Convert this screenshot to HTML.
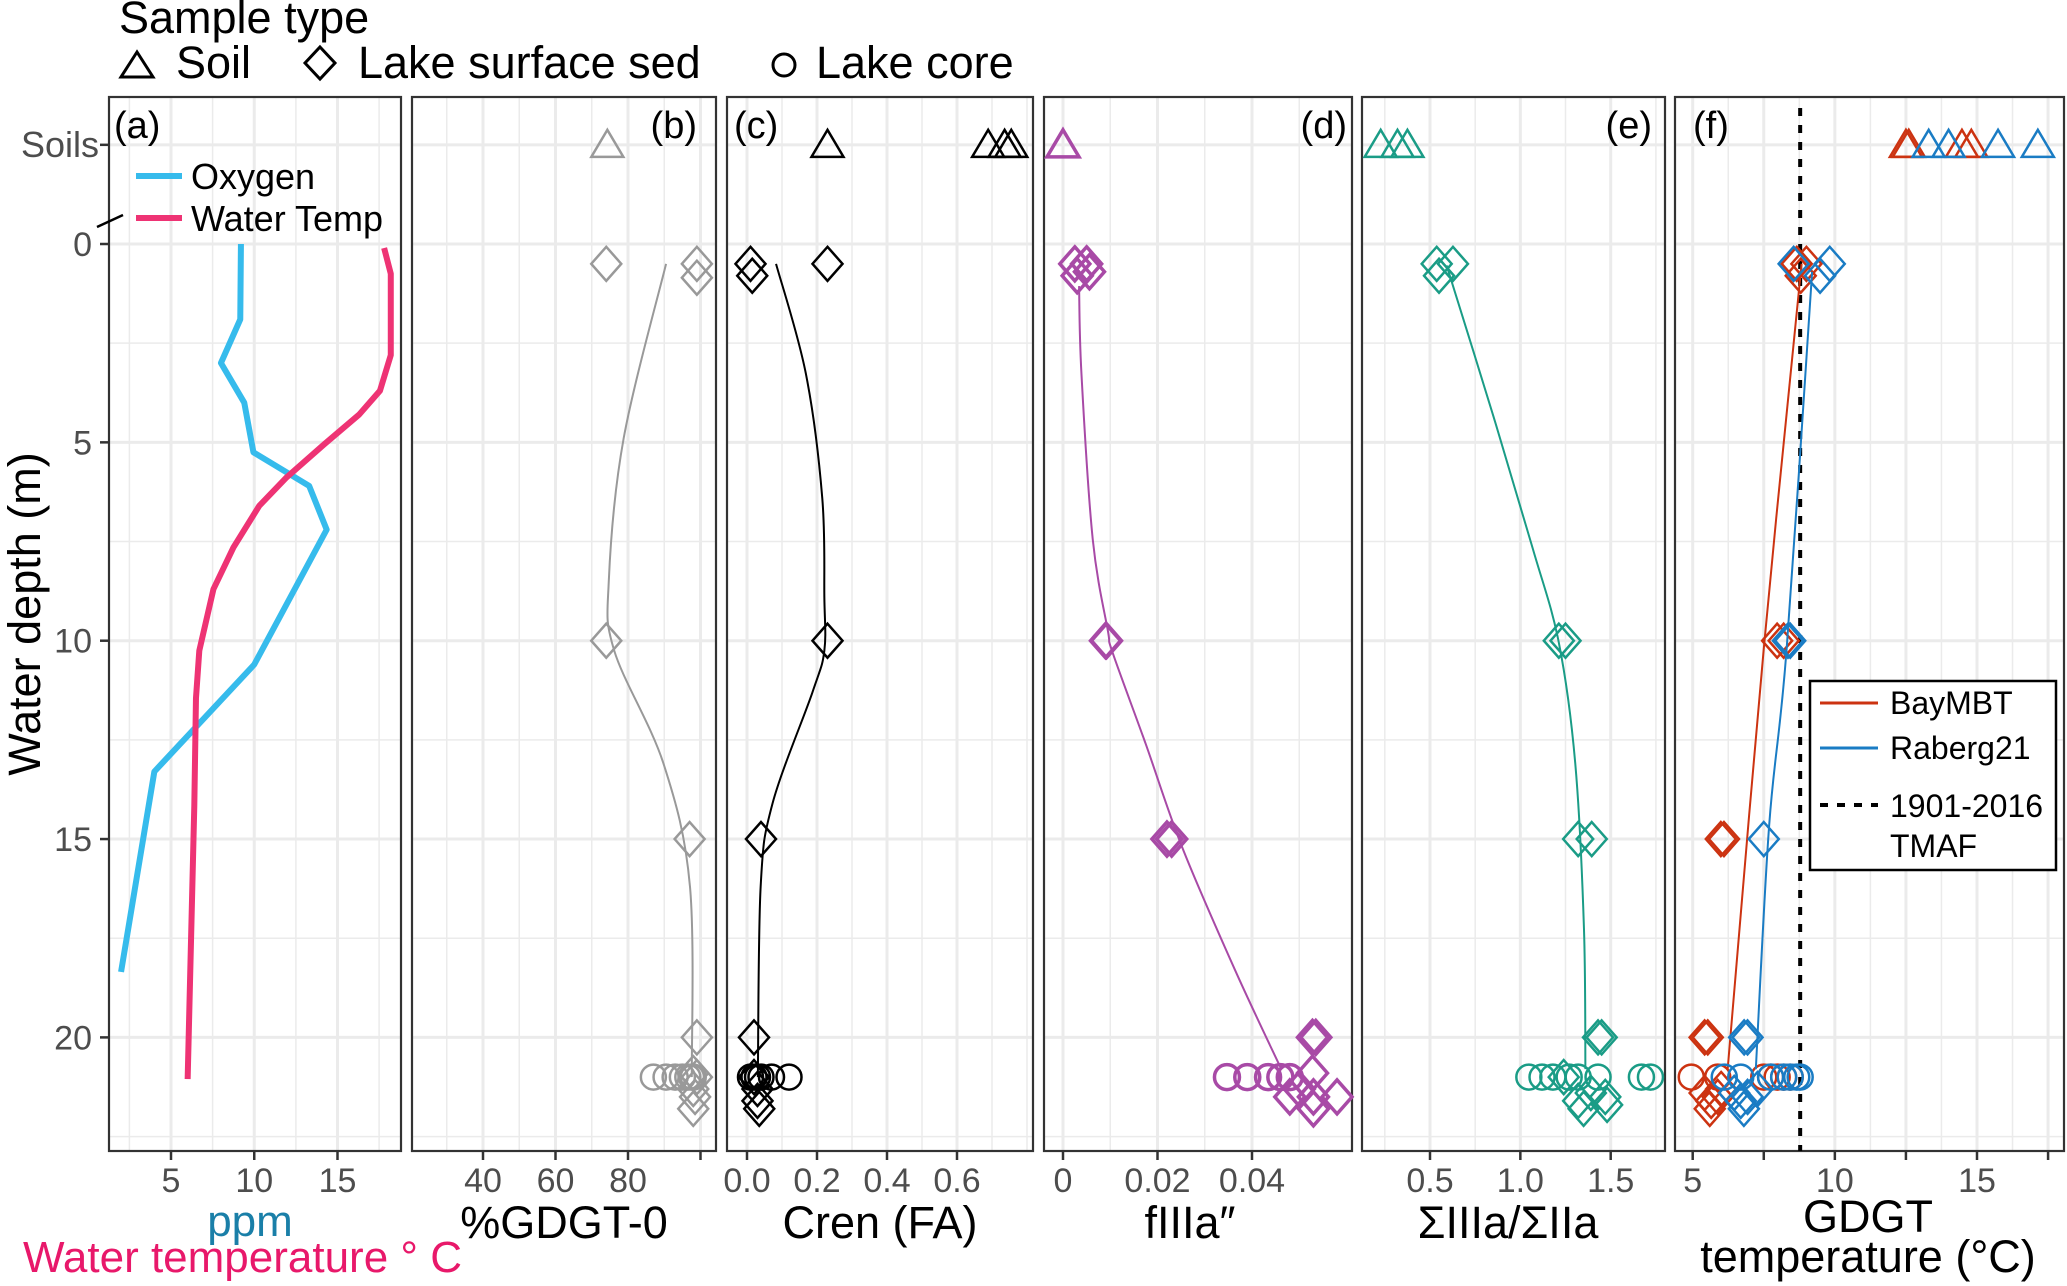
<!DOCTYPE html>
<html><head><meta charset="utf-8"><style>
html,body{margin:0;padding:0;background:#fff;}
svg{display:block;font-family:"Liberation Sans",Arial,sans-serif;}
</style></head><body>
<svg id="chart" width="2067" height="1286" viewBox="0 0 2067 1286" xmlns="http://www.w3.org/2000/svg">
<rect width="2067" height="1286" fill="#fff"/>
<g>
<text x="119" y="33" font-size="45">Sample type</text>
<polygon points="137,52 121,77 153,77" fill="none" stroke="#000" stroke-width="3"/>
<text x="176" y="78" font-size="45">Soil</text>
<polygon points="320,47 335,63 320,79 305,63" fill="none" stroke="#000" stroke-width="3"/>
<text x="358" y="78" font-size="45">Lake surface sed</text>
<circle cx="784" cy="65" r="11" fill="none" stroke="#000" stroke-width="3"/>
<text x="816" y="78" font-size="45">Lake core</text>
</g>
<g id="plots"></g>
<text transform="translate(40,614) rotate(-90)" text-anchor="middle" font-size="45">Water depth (m)</text>
<text x="250" y="1236" text-anchor="middle" font-size="44" fill="#1a7fa8">ppm</text>
<text x="23" y="1272" font-size="44" fill="#e8186a">Water temperature ° C</text>
<text x="564" y="1238" text-anchor="middle" font-size="45">%GDGT-0</text>
<text x="880" y="1238" text-anchor="middle" font-size="45">Cren (FA)</text>
<text x="1190" y="1238" text-anchor="middle" font-size="45">fIIIa″</text>
<text x="1508" y="1238" text-anchor="middle" font-size="45">ΣIIIa/ΣIIa</text>
<text x="1868" y="1232" text-anchor="middle" font-size="45">GDGT</text>
<text x="1868" y="1272" text-anchor="middle" font-size="45">temperature (°C)</text>
</svg>
<script>
// ---------- data ----------
const depthMajor = [-2.5, 0, 5, 10, 15, 20];
const depthMinor = [2.5, 7.5, 12.5, 17.5, 22.5];
const depthLabels = ["Soils", "0", "5", "10", "15", "20"];
const soilDepth = -2.5;
const coreDepth = 21;

// panel a
const oxyX = [9.2, 9.16, 8.0, 9.4, 9.95, 13.3, 14.35, 10.0, 4.0, 2.0];
const oxyD = [0.0, 1.9, 3.0, 4.0, 5.25, 6.1, 7.2, 10.6, 13.3, 18.35];
const tempX = [17.8, 18.2, 18.2, 17.55, 16.3, 14.2, 11.9, 10.3, 8.75, 7.55, 6.7, 6.5, 6.4, 6.0];
const tempD = [0.1, 0.75, 2.8, 3.7, 4.3, 5.05, 5.9, 6.6, 7.65, 8.7, 10.25, 11.45, 14.15, 21.05];

// panel b %GDGT-0
const bSoil = [74.3];
const bSedX = [74, 99, 99, 74, 97, 99, 98, 99, 98, 98.5, 98];
const bSedD = [0.5, 0.5, 0.85, 10, 15, 20, 20.9, 21, 21.3, 21.5, 21.8];
const bCore = [87, 90.5, 93, 95, 96.5, 97.5, 98];
const bFitX = [90.5, 78.8, 74.7, 76.2, 89.8, 97.1, 97.6];
const bFitD = [0.5, 4.9, 8.5, 10.25, 13.1, 16.2, 21];

// panel c Cren (FA)
const cSoil = [0.23, 0.689, 0.736, 0.755];
const cSedX = [0.01, 0.015, 0.23, 0.23, 0.04, 0.02, 0.02, 0.03, 0.03, 0.035];
const cSedD = [0.5, 0.8, 0.5, 10, 15, 20, 21, 21.3, 21.6, 21.8];
const cCore = [0.01, 0.02, 0.03, 0.04, 0.07, 0.12];
const cFitX = [0.083, 0.168, 0.215, 0.221, 0.221, 0.187, 0.073, 0.039, 0.031];
const cFitD = [0.5, 3.26, 6.4, 8.9, 10.25, 11.3, 14.1, 16.2, 21];

// panel d fIIIa''
const dSoil = [0.0];
const dSedX = [0.0025, 0.005, 0.0056, 0.003, 0.009, 0.0092, 0.022, 0.023, 0.0528, 0.0535, 0.0528, 0.05, 0.048, 0.053, 0.058, 0.053];
const dSedD = [0.5, 0.5, 0.7, 0.8, 10, 10, 15, 15, 20, 20, 20.9, 21.3, 21.5, 21.5, 21.5, 21.8];
const dCore = [0.0347, 0.039, 0.0434, 0.046, 0.048];
const dFitX = [0.0034, 0.0039, 0.0063, 0.0095, 0.0105, 0.0175, 0.0252, 0.0364, 0.0462];
const dFitD = [1.06, 3.26, 7.45, 9.75, 10.3, 12.6, 15.2, 18.3, 20.8];

// panel e ΣIIIa/ΣIIa
const eSoil = [0.227, 0.32, 0.375];
const eSedX = [0.537, 0.627, 0.55, 1.213, 1.25, 1.32, 1.395, 1.43, 1.45, 1.24, 1.32, 1.39, 1.47, 1.48, 1.35];
const eSedD = [0.5, 0.5, 0.8, 10, 10, 15, 15, 20, 20, 21, 21.6, 21.4, 21.5, 21.7, 21.8];
const eCore = [1.047, 1.12, 1.18, 1.27, 1.32, 1.43, 1.67, 1.72];
const eFitX = [0.592, 0.848, 1.067, 1.213, 1.304, 1.352, 1.36];
const eFitD = [0.54, 4.3, 7.65, 10.05, 13.1, 17.25, 20.8];

// panel f GDGT temperature
const fSoilRed = [12.5, 12.6, 14.47, 14.8];
const fSoilBlue = [13.3, 14.0, 15.74, 17.14];
const fSedRedX = [8.66, 9.0, 8.8, 7.97, 8.2, 5.99, 6.1, 5.42, 5.53, 5.42, 5.65, 5.88, 6.0, 5.6];
const fSedRedD = [0.5, 0.5, 0.8, 10, 10, 15, 15, 20, 20, 21.4, 21.6, 21.5, 21.3, 21.8];
const fSedBlueX = [8.55, 9.82, 9.48, 8.43, 8.35, 7.5, 6.81, 6.93, 6.46, 6.69, 6.93, 7.28, 6.8];
const fSedBlueD = [0.5, 0.5, 0.8, 10, 10, 15, 20, 20, 21.4, 21.6, 21.5, 21.3, 21.8];
const fCoreRed = [4.95, 5.88, 7.5, 7.74, 7.97, 8.2, 8.43];
const fCoreBlue = [6.11, 6.69, 7.74, 8.2, 8.43, 8.66, 8.78];
const fFitRedX = [8.83, 7.5, 6.23];
const fFitRedD = [0.5, 10.2, 20.8];
const fFitBlueX = [9.2, 8.3, 7.69, 7.22];
const fFitBlueD = [0.7, 10.25, 14.65, 20.8];
const tmaf = 8.78;

// tick values
const aTicks = [5, 10, 15], aGrid = [2.5, 5, 7.5, 10, 12.5, 15, 17.5];
const bTicks = [40, 60, 80, 100], bLabels = ["40", "60", "80", ""], bGrid = [30, 40, 50, 60, 70, 80, 90, 100];
const cTicks = [0, 0.2, 0.4, 0.6], cLabels = ["0.0", "0.2", "0.4", "0.6"], cGrid = [0, 0.1, 0.2, 0.3, 0.4, 0.5, 0.6, 0.7, 0.8];
const dTicks = [0, 0.02, 0.04], dLabels = ["0", "0.02", "0.04"], dGrid = [0, 0.01, 0.02, 0.03, 0.04, 0.05];
const eTicks = [0.5, 1.0, 1.5], eLabels = ["0.5", "1.0", "1.5"], eGrid = [0.25, 0.5, 0.75, 1.0, 1.25, 1.5, 1.75];
const fTicks = [5, 7.5, 10, 12.5, 15, 17.5], fLabels = ["5", "", "10", "", "15", ""], fGrid = [5, 6.25, 7.5, 8.75, 10, 11.25, 12.5, 13.75, 15, 16.25, 17.5];

// ---------- layout ----------
const TOP = 97, BOT = 1151;
const Y = d => 244 + d * 39.67;
const P = {
  a: {x0: 109, x1: 401, v1: 5, p1: 171, v2: 15, p2: 337.5},
  b: {x0: 412, x1: 716, v1: 40, p1: 483, v2: 80, p2: 628},
  c: {x0: 727, x1: 1033, v1: 0, p1: 747, v2: 0.6, p2: 957},
  d: {x0: 1044, x1: 1352, v1: 0, p1: 1063, v2: 0.04, p2: 1252},
  e: {x0: 1362, x1: 1665, v1: 0.5, p1: 1430, v2: 1.5, p2: 1610.7},
  f: {x0: 1675, x1: 2064, v1: 5, p1: 1692.7, v2: 15, p2: 1977}
};
const sx = (p, v) => p.p1 + (v - p.v1) * (p.p2 - p.p1) / (p.v2 - p.v1);
const NS = "http://www.w3.org/2000/svg";
const root = document.getElementById("plots");
function mk(parent, tag, attrs) {
  const e = document.createElementNS(NS, tag);
  for (const k in attrs) e.setAttribute(k, attrs[k]);
  parent.appendChild(e);
  return e;
}
function smoothPath(pts) {
  let d = "M" + pts[0][0] + "," + pts[0][1];
  for (let i = 0; i < pts.length - 1; i++) {
    const p0 = pts[Math.max(0, i - 1)], p1 = pts[i], p2 = pts[i + 1], p3 = pts[Math.min(pts.length - 1, i + 2)];
    const c1x = p1[0] + (p2[0] - p0[0]) / 6, c1y = p1[1] + (p2[1] - p0[1]) / 6;
    const c2x = p2[0] - (p3[0] - p1[0]) / 6, c2y = p2[1] - (p3[1] - p1[1]) / 6;
    d += " C" + c1x + "," + c1y + " " + c2x + "," + c2y + " " + p2[0] + "," + p2[1];
  }
  return d;
}
function marker(g, shape, x, y, color, sw, name) {
  let e;
  if (shape === "tri") {
    e = mk(g, "polygon", {points: `${x},${y - 15} ${x - 16},${y + 12} ${x + 16},${y + 12}`, fill: "none", stroke: color, "stroke-width": sw});
  } else if (shape === "dia") {
    e = mk(g, "polygon", {points: `${x},${y - 17} ${x + 15},${y} ${x},${y + 17} ${x - 15},${y}`, fill: "none", stroke: color, "stroke-width": sw});
  } else {
    e = mk(g, "circle", {cx: x, cy: y, r: 12.5, fill: "none", stroke: color, "stroke-width": sw});
  }
  
  
  return e;
}
function panel(key, grid, ticks, labels) {
  const p = P[key];
  const g = mk(root, "g", {});
  
  
  depthMinor.forEach(d => {
    const l = mk(g, "line", {x1: p.x0, x2: p.x1, y1: Y(d), y2: Y(d), stroke: "#ebebeb", "stroke-width": 1.5});
    
    
  });
  depthMajor.forEach(d => {
    const l = mk(g, "line", {x1: p.x0, x2: p.x1, y1: Y(d), y2: Y(d), stroke: "#ebebeb", "stroke-width": 3});
    
    
  });
  grid.forEach(v => {
    const x = sx(p, v);
    if (x <= p.x0 || x >= p.x1) return;
    const major = ticks.some(t => Math.abs(t - v) < 1e-9);
    const l = mk(g, "line", {x1: x, x2: x, y1: TOP, y2: BOT, stroke: "#ebebeb", "stroke-width": major ? 3 : 1.5});
    
    
  });
  ticks.forEach((v, i) => {
    const x = sx(p, v);
    if (x > p.x1) return;
    const t = mk(g, "line", {x1: x, x2: x, y1: BOT, y2: BOT + 9, stroke: "#333", "stroke-width": 2.5});
    
    
    const lab = labels ? labels[i] : String(v);
    if (lab) {
      const tx = mk(g, "text", {x: x, y: 1192, "text-anchor": "middle", "font-size": 34, fill: "#4d4d4d"});
      tx.textContent = lab;
      
      
    }
  });
  const fr = mk(g, "rect", {x: p.x0, y: TOP, width: p.x1 - p.x0, height: BOT - TOP, fill: "none", stroke: "#333", "stroke-width": 2.2});
  
  
  return g;
}
function drawStd(key, g, color, sw, soil, sedX, sedD, core, fitX, fitD, fitW) {
  const p = P[key];
  if (fitX) {
    const path = mk(g, "path", {d: smoothPath(fitX.map((v, i) => [sx(p, v), Y(fitD[i])])), fill: "none", stroke: color, "stroke-width": fitW});
    
    
  }
  soil.forEach(v => marker(g, "tri", sx(p, v), Y(soilDepth), color, sw, 'soil-point'));
  sedX.forEach((v, i) => marker(g, "dia", sx(p, v), Y(sedD[i]), color, sw, 'sediment-point'));
  core.forEach(v => marker(g, "circ", sx(p, v), Y(coreDepth), color, sw, 'core-point'));
}
function panelLabel(g, txt, x, anchor) {
  const t = mk(g, "text", {x: x, y: 138, "text-anchor": anchor, "font-size": 38});
  t.textContent = txt;
  
  
}

// panel a
const ga = panel("a", aGrid, aTicks, null);
depthMajor.forEach((d, i) => {
  const t = mk(ga, "line", {x1: 100, x2: 109, y1: Y(d), y2: Y(d), stroke: "#333", "stroke-width": 2.5});
  
  
  const tx = mk(ga, "text", {x: i === 0 ? 99 : 92, y: Y(d) + 12, "text-anchor": "end", "font-size": i === 0 ? 36 : 34, fill: "#4d4d4d"});
  tx.textContent = depthLabels[i];
  
  
});
const brk = mk(ga, "line", {x1: 97, y1: 227, x2: 123, y2: 215, stroke: "#000", "stroke-width": 2.5});


const oxy = mk(ga, "polyline", {points: oxyX.map((v, i) => sx(P.a, v) + "," + Y(oxyD[i])).join(" "), fill: "none", stroke: "#36bbec", "stroke-width": 6, "stroke-linejoin": "round"});


const tmp = mk(ga, "polyline", {points: tempX.map((v, i) => sx(P.a, v) + "," + Y(tempD[i])).join(" "), fill: "none", stroke: "#ee3374", "stroke-width": 6, "stroke-linejoin": "round"});


panelLabel(ga, "(a)", 114, "start");
const lg1 = mk(ga, "line", {x1: 136, x2: 182, y1: 176, y2: 176, stroke: "#36bbec", "stroke-width": 6});


const lt1 = mk(ga, "text", {x: 191, y: 189, "font-size": 36}); lt1.textContent = "Oxygen";


const lg2 = mk(ga, "line", {x1: 136, x2: 182, y1: 218, y2: 218, stroke: "#ee3374", "stroke-width": 6});


const lt2 = mk(ga, "text", {x: 191, y: 231, "font-size": 36}); lt2.textContent = "Water Temp";



// panel b
const gb = panel("b", bGrid, bTicks, bLabels);
drawStd("b", gb, "#999999", 2.5, bSoil, bSedX, bSedD, bCore, bFitX, bFitD, 2);
panelLabel(gb, "(b)", 697, "end");
// panel c
const gc = panel("c", cGrid, cTicks, cLabels);
drawStd("c", gc, "#000000", 2.5, cSoil, cSedX, cSedD, cCore, cFitX, cFitD, 2);
panelLabel(gc, "(c)", 734, "start");
// panel d
const gd = panel("d", dGrid, dTicks, dLabels);
drawStd("d", gd, "#a84aa6", 3.5, dSoil, dSedX, dSedD, dCore, dFitX, dFitD, 2);
panelLabel(gd, "(d)", 1347, "end");
// panel e
const ge = panel("e", eGrid, eTicks, eLabels);
drawStd("e", ge, "#1a9c86", 2.5, eSoil, eSedX, eSedD, eCore, eFitX, eFitD, 2);
panelLabel(ge, "(e)", 1652, "end");
// panel f
const gf = panel("f", fGrid, fTicks, fLabels);
const tm = mk(gf, "line", {x1: sx(P.f, tmaf), x2: sx(P.f, tmaf), y1: 108, y2: BOT, stroke: "#000", "stroke-width": 4, "stroke-dasharray": "8,9"});


drawStd("f", gf, "#cc3311", 2.5, fSoilRed, fSedRedX, fSedRedD, fCoreRed, fFitRedX, fFitRedD, 2);
drawStd("f", gf, "#1a7cc4", 2.5, fSoilBlue, fSedBlueX, fSedBlueD, fCoreBlue, fFitBlueX, fFitBlueD, 2);
panelLabel(gf, "(f)", 1693, "start");
const lbox = mk(gf, "rect", {x: 1810, y: 681, width: 246, height: 189, fill: "#fff", stroke: "#000", "stroke-width": 2.5});


const l1 = mk(gf, "line", {x1: 1820, x2: 1878, y1: 703, y2: 703, stroke: "#cc3311", "stroke-width": 3});


const t1 = mk(gf, "text", {x: 1890, y: 714, "font-size": 32}); t1.textContent = "BayMBT";


const l2 = mk(gf, "line", {x1: 1820, x2: 1878, y1: 748, y2: 748, stroke: "#1a7cc4", "stroke-width": 3});


const t2 = mk(gf, "text", {x: 1890, y: 759, "font-size": 32}); t2.textContent = "Raberg21";


const l3 = mk(gf, "line", {x1: 1820, x2: 1878, y1: 805, y2: 805, stroke: "#000", "stroke-width": 4, "stroke-dasharray": "8,9"});


const t3 = mk(gf, "text", {x: 1890, y: 817, "font-size": 32}); t3.textContent = "1901-2016";


const t4 = mk(gf, "text", {x: 1890, y: 857, "font-size": 32}); t4.textContent = "TMAF";


</script>
</body></html>
